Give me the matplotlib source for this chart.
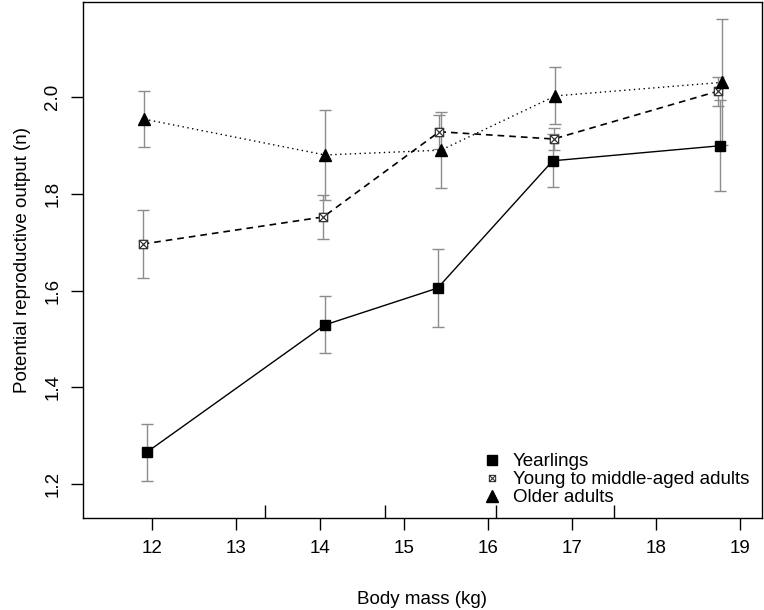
import numpy as np
import matplotlib
matplotlib.use("Agg")
import matplotlib.pyplot as plt
from matplotlib.path import Path
from matplotlib.lines import Line2D

plt.rcParams['font.family'] = ['Liberation Sans', 'DejaVu Sans']

# body mass (kg) per age class
x_year = [11.94, 14.06, 15.40, 16.77, 18.76]
y_year = [1.266, 1.529, 1.605, 1.868, 1.899]
e_year = [0.059, 0.059, 0.081, 0.055, 0.094]

x_young = [11.89, 14.04, 15.42, 16.78, 18.74]
y_young = [1.696, 1.752, 1.928, 1.913, 2.012]
e_young = [0.070, 0.045, 0.035, 0.022, 0.030]

x_old = [11.91, 14.06, 15.44, 16.80, 18.78]
y_old = [1.954, 1.880, 1.890, 2.002, 2.030]
e_old = [0.058, 0.093, 0.079, 0.059, 0.130]

# inner tick marks on the x axis
class_bounds = [13.35, 14.77, 16.10, 17.50]

# square with a cross (R pch 7)
boxx = Path([(-1, -1), (1, -1), (1, 1), (-1, 1), (-1, -1),
             (-1, -1), (1, 1), (-1, 1), (1, -1)],
            [Path.MOVETO, Path.LINETO, Path.LINETO, Path.LINETO, Path.CLOSEPOLY,
             Path.MOVETO, Path.LINETO, Path.MOVETO, Path.LINETO])

fig = plt.figure(figsize=(7.64, 6.10), dpi=100)
ax = fig.add_axes([0.1086, 0.1508, 0.8888, 0.8459])

err_kw = dict(fmt='none', ecolor='#8c8c8c', elinewidth=1.0, capsize=4.5, capthick=1.0)
ax.errorbar(x_year, y_year, yerr=e_year, **err_kw)
ax.errorbar(x_young, y_young, yerr=e_young, **err_kw)
ax.errorbar(x_old, y_old, yerr=e_old, **err_kw)

ax.plot(x_year, y_year, color='black', lw=1.0, ls='-', marker='s', ms=7,
        mfc='black', mec='black')
ax.plot(x_young, y_young, color='black', lw=1.2, ls=(0, (4, 3)), marker=boxx, ms=6,
        mfc='white', mec='#333333', mew=0.9)
ax.plot(x_old, y_old, color='black', lw=1.0, ls=(0, (1, 2.5)), marker='^', ms=9,
        mfc='black', mec='black')

ax.vlines(class_bounds, 0, 0.026, transform=ax.get_xaxis_transform(),
          color='black', lw=1.0)

ax.set_xlim(11.18, 19.26)
ax.set_ylim(1.130, 2.196)
ax.set_xticks(range(12, 20))
ax.set_yticks([1.2, 1.4, 1.6, 1.8, 2.0])
ax.set_yticklabels(['1.2', '1.4', '1.6', '1.8', '2.0'], rotation=90, va='center')
ax.tick_params(axis='both', direction='out', length=8.5, width=1.0, labelsize=13.5, pad=7)
for s in ax.spines.values():
    s.set_linewidth(1.0)

ax.set_xlabel('Body mass (kg)', fontsize=13.5, labelpad=25)
ax.set_ylabel('Potential reproductive output (n)', fontsize=13.5, labelpad=10)

handles = [
    Line2D([], [], ls='none', marker='s', ms=6.5, mfc='black', mec='black'),
    Line2D([], [], ls='none', marker=boxx, ms=4.5, mfc='white', mec='#333333', mew=0.8),
    Line2D([], [], ls='none', marker='^', ms=8, mfc='black', mec='black'),
]
ax.legend(handles, ['Yearlings', 'Young to middle-aged adults', 'Older adults'],
          loc='lower right', bbox_to_anchor=(0.998, 0.001), frameon=False,
          fontsize=13.5, handletextpad=0.6, handlelength=1.0, labelspacing=0.05,
          borderaxespad=0.2)

fig.savefig('out.png', dpi=100)
